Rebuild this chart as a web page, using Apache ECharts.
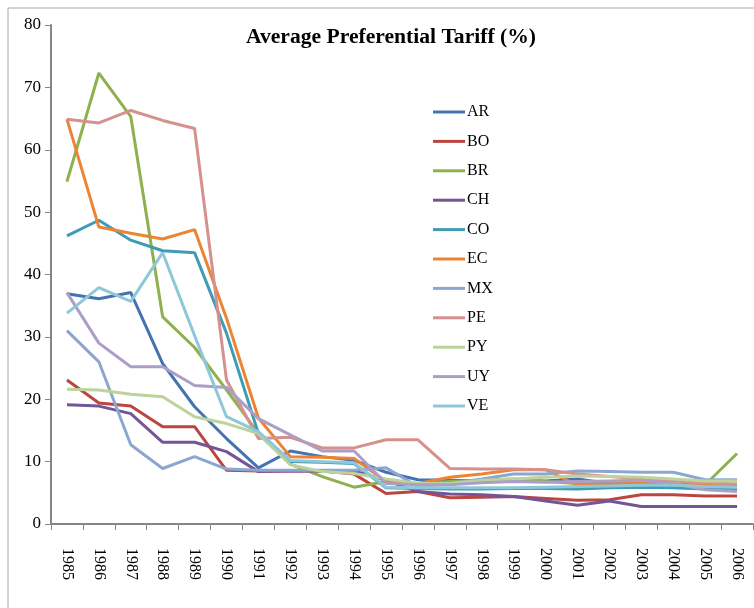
<!DOCTYPE html>
<html>
<head>
<meta charset="utf-8">
<script src="https://cdn.jsdelivr.net/npm/echarts@6/dist/echarts.min.js"></script>
<style>
  html, body { margin: 0; padding: 0; background: #fff; }
  #chart { width: 754px; height: 608px; }
</style>
</head>
<body>
<div id="chart"></div>
<script>
var years = ['1985', '1986', '1987', '1988', '1989', '1990', '1991', '1992', '1993', '1994', '1995',
  '1996', '1997', '1998', '1999', '2000', '2001', '2002', '2003', '2004', '2005', '2006']
var yTicks = [0, 10, 20, 30, 40, 50, 60, 70, 80]

var AR = [36.9, 36.1, 37.1, 25.7, 18.8, 13.7, 9.0, 11.7, 10.8, 10.2, 8.3, 7.1, 7.0, 6.9, 7.0, 6.9, 7.2, 6.5, 6.4, 6.3, 6.0, 5.9]
var BO = [23.1, 19.4, 18.9, 15.6, 15.6, 8.6, 8.5, 8.5, 8.5, 8.0, 4.9, 5.2, 4.2, 4.3, 4.4, 4.1, 3.8, 3.9, 4.7, 4.7, 4.5, 4.5]
var BR = [54.9, 72.3, 65.3, 33.2, 28.3, 21.5, 14.5, 9.6, 7.6, 5.9, 6.8, 6.4, 6.8, 7.0, 7.2, 6.8, 6.5, 6.4, 6.3, 6.2, 6.3, 11.3]
var CH = [19.1, 18.9, 17.7, 13.1, 13.1, 11.6, 8.4, 8.5, 8.5, 8.5, 7.0, 5.2, 4.8, 4.7, 4.4, 3.7, 3.0, 3.7, 2.8, 2.8, 2.8, 2.8]
var CO = [46.2, 48.7, 45.5, 43.8, 43.5, 30.6, 14.5, 10.0, 9.9, 9.7, 5.8, 5.7, 5.6, 5.6, 5.7, 5.7, 5.6, 5.8, 5.9, 5.8, 5.6, 5.5]
var EC = [64.9, 47.6, 46.6, 45.7, 47.2, 33.0, 17.0, 10.8, 10.7, 10.5, 6.8, 6.5, 7.5, 8.0, 8.7, 8.7, 6.2, 6.4, 6.6, 6.4, 6.2, 6.0]
var MX = [31.0, 26.0, 12.7, 8.9, 10.8, 8.8, 8.6, 8.6, 8.6, 8.6, 9.0, 6.0, 6.5, 7.2, 8.0, 8.0, 8.5, 8.4, 8.3, 8.3, 7.1, 7.1]
var PE = [64.9, 64.3, 66.3, 64.7, 63.4, 23.1, 13.7, 13.9, 12.2, 12.2, 13.5, 13.5, 8.9, 8.8, 8.8, 8.7, 8.0, 7.6, 7.2, 6.9, 6.6, 6.4]
var PY = [21.6, 21.5, 20.8, 20.4, 17.2, 16.1, 14.5, 9.5, 8.4, 8.1, 7.2, 6.5, 6.5, 7.0, 7.2, 7.5, 7.7, 7.6, 7.5, 7.2, 6.9, 6.9]
var UY = [37.1, 29.0, 25.2, 25.2, 22.2, 21.9, 16.9, 14.3, 11.7, 11.7, 6.5, 6.3, 6.3, 6.6, 6.8, 6.7, 6.8, 6.9, 7.0, 6.5, 5.5, 5.2]
var VE = [33.8, 37.9, 35.7, 43.5, 30.2, 17.2, 14.8, 10.2, 10.0, 9.8, 5.9, 5.8, 5.8, 5.8, 5.8, 5.9, 6.0, 6.1, 6.2, 6.2, 6.0, 5.9]

var countries = ['AR', 'BO', 'BR', 'CH', 'CO', 'EC', 'MX', 'PE', 'PY', 'UY', 'VE']
var values = [AR, BO, BR, CH, CO, EC, MX, PE, PY, UY, VE]
var colors = ['#4473B0', '#BA4642', '#8FB04E', '#735598', '#3E9CB5', '#EB8433',
  '#8CA7CF', '#D6908E', '#BCD39C', '#AC9EC6', '#8FC7DA']

var serif = '"Liberation Serif", "DejaVu Serif", serif'

var chart = echarts.init(document.getElementById('chart'))

chart.setOption({
  backgroundColor: '#fff',
  animation: false,
  color: colors,
  graphic: [
    {
      type: 'rect',
      shape: { x: 8, y: 8, width: 800, height: 700 },
      style: { fill: 'none', stroke: '#a6a6a6', lineWidth: 1 },
      silent: true
    }
  ],
  title: {
    text: 'Average Preferential Tariff (%)',
    left: 386,
    top: 21,
    textAlign: 'center',
    textStyle: {
      fontFamily: serif,
      fontSize: 21.6,
      fontWeight: 'bold',
      color: '#000'
    }
  },
  legend: {
    orient: 'vertical',
    left: 428,
    top: 99,
    itemWidth: 32,
    itemHeight: 14,
    itemGap: 13.4,
    icon: 'path://M0,6 L32,6 L32,9 L0,9 Z',
    textStyle: {
      fontFamily: serif,
      fontSize: 16,
      color: '#000',
      padding: [0, 0, 0, -3]
    },
    data: countries
  },
  grid: {
    left: 51,
    top: 25,
    right: 1,
    bottom: 84,
    containLabel: false
  },
  xAxis: {
    type: 'category',
    data: years,
    boundaryGap: true,
    axisLine: { lineStyle: { color: '#868686', width: 2 } },
    axisTick: { show: true, alignWithLabel: false, length: 6, lineStyle: { color: '#868686' } },
    axisLabel: {
      rotate: -90,
      interval: 0,
      margin: 24,
      fontFamily: serif,
      fontSize: 16,
      color: '#000'
    },
    splitLine: { show: false }
  },
  yAxis: {
    type: 'value',
    min: yTicks[0],
    max: yTicks[yTicks.length - 1],
    interval: 10,
    axisLine: { show: true, lineStyle: { color: '#868686', width: 2 } },
    axisTick: { show: true, length: 6, lineStyle: { color: '#868686' } },
    axisLabel: {
      margin: 10,
      fontFamily: serif,
      fontSize: 17,
      color: '#000'
    },
    splitLine: { show: false }
  },
  series: countries.map(function (name, i) {
    return {
      name: name,
      type: 'line',
      data: values[i],
      symbol: 'none',
      lineStyle: { width: 3, color: colors[i] },
      itemStyle: { color: colors[i] }
    }
  })
})
</script>
</body>
</html>
